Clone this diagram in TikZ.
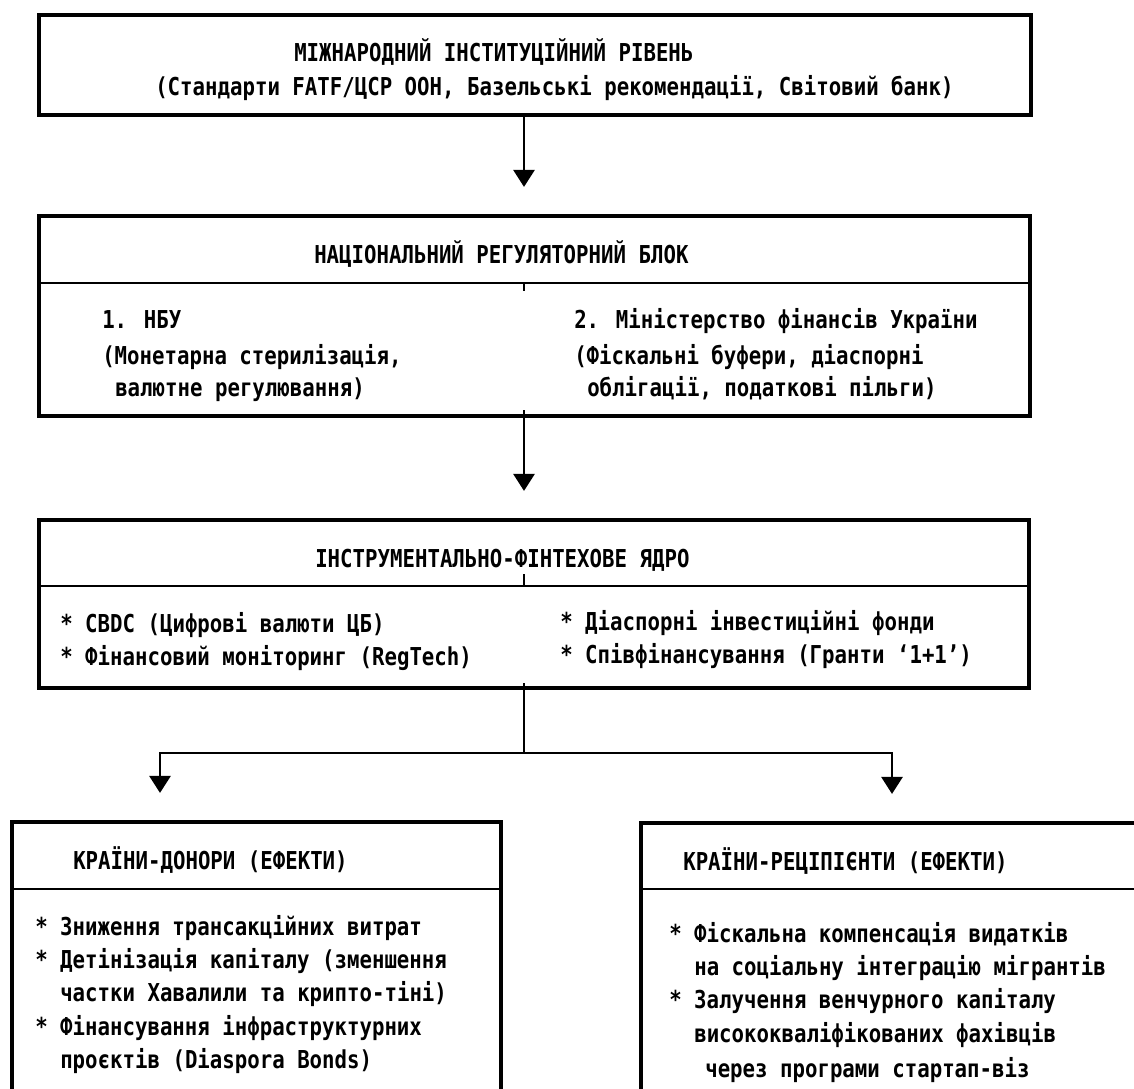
\documentclass[tikz,border=0pt]{standalone}
\usepackage{fontspec}
\newfontfamily\boxfont[FakeStretch=0.84]{DejaVu Sans Mono}
\usetikzlibrary{arrows.meta}
\usetikzlibrary{fit}

\begin{document}
\begin{tikzpicture}[x=0.75pt,y=0.75pt,yscale=-1,xscale=1,
	blk/.style={draw, line width=3.6pt, inner sep=0pt},
	divider/.style={line width=2pt},
	link/.style={line width=2pt},
	arr/.style={link, -{Triangle[length=12.75pt,width=15.75pt]}, shorten >=20pt},
	txt/.style={anchor=base west, inner sep=0pt, font=\boxfont\bfseries\fontsize{18.5pt}{22pt}\selectfont}]
	%set diagram size to the page
	\useasboundingbox (0,0) rectangle (1134,1088);
	\clip (0,0) rectangle (1134,1088);
	
	%Boxes
	\node [blk, fit={(39,15) (1031,115)}] (intl) {};
	\node [blk, fit={(39,216) (1030,416)}] (natl) {};
	\node [blk, fit={(39,520) (1029,688)}] (core) {};
	\node [blk, fit={(12,822) (501,1110)}] (donor) {};
	\node [blk, fit={(641,823) (1160,1110)}] (recip) {};
	
	%Dividers
	\draw [divider] (39,283) -- (1030,283);
	\draw [divider] (39,586) -- (1029,586);
	\draw [divider] (12,889) -- (501,889);
	\draw [divider] (641,889) -- (1160,889);
	
	%Connectors
	\coordinate (spine) at (524,0);
	\coordinate (split) at (524,753);
	\coordinate (ldrop) at (160,0);
	\coordinate (rdrop) at (892,0);
	\draw [arr] (intl.south -| spine) -- (natl.north -| spine);
	\draw [arr] (natl.south -| spine) -- (core.north -| spine);
	\draw [link] (core.south -| spine) -- (split);
	\draw [arr] (split) -| (donor.north -| ldrop);
	\draw [arr] (split) -| (recip.north -| rdrop);
	%ticks on the dividers
	\draw [link] (524,283) -- (524,291);
	\draw [link] (natl.south -| spine) -- ++(0,-8);
	\draw [link] (524,574) -- (524,586);
	\draw [link] (core.south -| spine) -- ++(0,-7);
	
	% Text Node
	\node [txt] (intl-h) at (294,62) {МІЖНАРОДНИЙ ІНСТИТУЦІЙНИЙ РІВЕНЬ};
	\node [txt] (intl-s) at (155,95) {(Стандарти FATF/ЦСР ООН, Базельські рекомендації, Світовий банк)};
	% Text Node
	\node [txt] (natl-h) at (314,263) {НАЦІОНАЛЬНИЙ РЕГУЛЯТОРНИЙ БЛОК};
	\node [txt] (nbu-1) at (102,328) {1. НБУ};
	\node [txt] (nbu-2) at (102,364) {(Монетарна стерилізація,};
	\node [txt] (nbu-3) at (115,396) {валютне регулювання)};
	\node [txt] (mof-1) at (574,328) {2. Міністерство фінансів України};
	\node [txt] (mof-2) at (574,364) {(Фіскальні буфери, діаспорні};
	\node [txt] (mof-3) at (587,396) {облігації, податкові пільги)};
	% Text Node
	\node [txt] (core-h) at (315,567) {ІНСТРУМЕНТАЛЬНО-ФІНТЕХОВЕ ЯДРО};
	\node [txt] (core-1) at (60,632) {* CBDC (Цифрові валюти ЦБ)};
	\node [txt] (core-2) at (60,665) {* Фінансовий моніторинг (RegTech)};
	\node [txt] (core-3) at (560,630) {* Діаспорні інвестиційні фонди};
	\node [txt] (core-4) at (560,663) {* Співфінансування (Гранти ‘1+1’)};
	% Text Node
	\node [txt] (donor-h) at (73,869) {КРАЇНИ-ДОНОРИ (ЕФЕКТИ)};
	\node [txt] (donor-1) at (35,935) {* Зниження трансакційних витрат};
	\node [txt] (donor-2) at (35,968) {* Детінізація капіталу (зменшення};
	\node [txt] (donor-3) at (60,1001) {частки Хавалили та крипто-тіні)};
	\node [txt] (donor-4) at (35,1035) {* Фінансування інфраструктурних};
	\node [txt] (donor-5) at (60,1068) {проєктів (Diaspora Bonds)};
	% Text Node
	\node [txt] (recip-h) at (683,870) {КРАЇНИ-РЕЦІПІЄНТИ (ЕФЕКТИ)};
	\node [txt] (recip-1) at (669,942) {* Фіскальна компенсація видатків};
	\node [txt] (recip-2) at (694,975) {на соціальну інтеграцію мігрантів};
	\node [txt] (recip-3) at (669,1008) {* Залучення венчурного капіталу};
	\node [txt] (recip-4) at (694,1042) {висококваліфікованих фахівців};
	\node [txt] (recip-5) at (705,1077) {через програми стартап-віз};
	
\end{tikzpicture}
\end{document}
